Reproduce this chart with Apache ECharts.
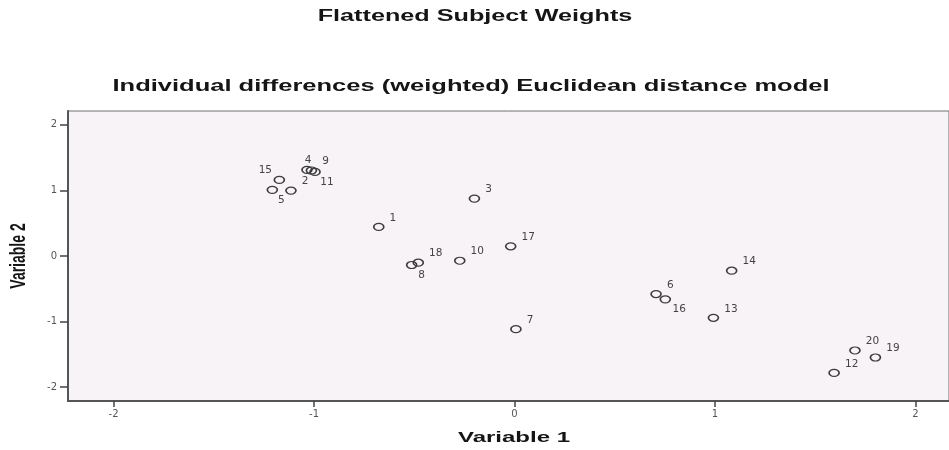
<!DOCTYPE html>
<html>
<head>
<meta charset="utf-8">
<title>Flattened Subject Weights</title>
<script src="https://cdn.jsdelivr.net/npm/echarts@6/dist/echarts.min.js"></script>
<style>
  html, body { margin: 0; padding: 0; background: #ffffff; }
  #chart { width: 949px; height: 450px; }
</style>
</head>
<body>
<div id="chart"></div>
<script>
// Subject identifiers and their weights on the two dimensions
const subjects = ['1','2','3','4','5','6','7','8','9','10','11','12','13','14','15','16','17','18','19','20'];
const variable1 = [-0.677, -1.115, -0.200, -1.035, -1.208, 0.706, 0.007, -0.513, -1.013, -0.273,
                   -0.995, 1.594, 0.992, 1.083, -1.173, 0.752, -0.019, -0.480, 1.800, 1.698];
const variable2 = [0.443, 0.997, 0.875, 1.313, 1.008, -0.580, -1.115, -0.137, 1.303, -0.072,
                   1.282, -1.782, -0.942, -0.224, 1.160, -0.661, 0.148, -0.102, -1.547, -1.440];

// Axis tick values
const xTicks = [-2, -1, 0, 1, 2];
const yTicks = [-2, -1, 0, 1, 2];

// Labels that do not sit above-right of their marker (offset of the label centre)
const labelPlacement = {
  '15': [-14, -10],
  '5': [9, 10],
  '4': [1, -10],
  '11': [12, 10],
  '8': [10, 10],
  '16': [14, 10]
};

const points = subjects.map((id, i) => {
  const item = { name: id, value: [variable1[i], variable2[i]] };
  if (labelPlacement[id]) {
    item.label = { position: 'inside', offset: labelPlacement[id], align: 'center' };
  }
  return item;
});

const chart = echarts.init(document.getElementById('chart'), null, { renderer: 'canvas' });

const titleFont = '"Liberation Sans", Arial, sans-serif';
const tickFont = '"DejaVu Sans", sans-serif';

chart.setOption({
  animation: false,
  backgroundColor: '#ffffff',
  grid: {
    left: 68, right: 0, top: 111, bottom: 49,
    show: true,
    backgroundColor: '#f7f3f7',
    borderColor: '#707070',
    borderWidth: 1
  },
  xAxis: {
    type: 'value',
    min: -2.227, max: 2.167,
    splitLine: { show: false },
    axisLine: { show: true, onZero: false, lineStyle: { color: '#555', width: 2 } },
    axisTick: { show: true, customValues: xTicks, length: 6, lineStyle: { color: '#444', width: 1.5 } },
    axisLabel: { customValues: xTicks, color: '#555', fontSize: 10, margin: 8, fontFamily: tickFont }
  },
  yAxis: {
    type: 'value',
    min: -2.21, max: 2.21,
    splitLine: { show: false },
    axisLine: { show: true, onZero: false, lineStyle: { color: '#555', width: 2 } },
    axisTick: { show: true, customValues: yTicks, length: 8, lineStyle: { color: '#444', width: 1.5 } },
    axisLabel: { customValues: yTicks, color: '#555', fontSize: 10, margin: 11, fontFamily: tickFont }
  },
  series: [{
    type: 'scatter',
    data: points,
    symbol: 'circle',
    symbolSize: [10, 7],
    itemStyle: { color: 'rgba(0,0,0,0)', borderColor: '#3c3c3c', borderWidth: 1.4, opacity: 1 },
    label: {
      show: true,
      formatter: p => p.name,
      position: 'right',
      distance: 5,
      offset: [0, -9],
      color: '#444',
      fontSize: 10.5,
      fontFamily: tickFont
    },
    emphasis: { disabled: true }
  }],
  graphic: [
    {
      type: 'text', x: 475, y: 17, scaleX: 1.575,
      style: { text: 'Flattened Subject Weights', fontSize: 16, fontWeight: 'bold', fontFamily: titleFont,
               fill: '#151515', align: 'center', verticalAlign: 'middle' }
    },
    {
      type: 'text', x: 471, y: 86, scaleX: 1.5,
      style: { text: 'Individual differences (weighted) Euclidean distance model', fontSize: 17, fontWeight: 'bold',
               fontFamily: titleFont, fill: '#151515', align: 'center', verticalAlign: 'middle' }
    },
    {
      type: 'text', x: 514, y: 438, scaleX: 1.6,
      style: { text: 'Variable 1', fontSize: 15, fontWeight: 'bold', fontFamily: titleFont,
               fill: '#151515', align: 'center', verticalAlign: 'middle' }
    },
    {
      type: 'text', x: 19, y: 256, rotation: Math.PI / 2, scaleY: 1.6,
      style: { text: 'Variable 2', fontSize: 14, fontWeight: 'bold', fontFamily: titleFont,
               fill: '#151515', align: 'center', verticalAlign: 'middle' }
    }
  ]
});
</script>
</body>
</html>
